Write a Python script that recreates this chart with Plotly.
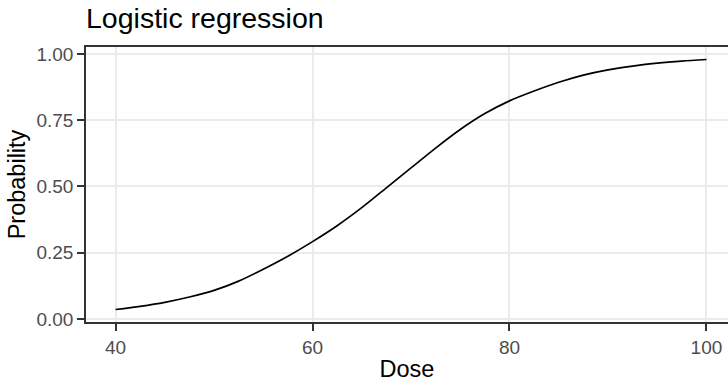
import plotly.graph_objects as go

# Fitted probability of response by dose
dose = [40, 42.5, 45, 47.5, 50, 52.5, 55, 57.5, 60, 62.5, 65, 67.5, 70,
        72.5, 75, 77.5, 80, 82.5, 85, 87.5, 90, 92.5, 95, 97.5, 100]
probability = [0.036, 0.048, 0.063, 0.083, 0.108, 0.143, 0.188, 0.237, 0.292,
               0.352, 0.420, 0.495, 0.570, 0.645, 0.715, 0.775, 0.823, 0.860,
               0.893, 0.920, 0.940, 0.954, 0.965, 0.973, 0.979]

x_ticks = [40, 60, 80, 100]
y_ticks = [0.00, 0.25, 0.50, 0.75, 1.00]
y_tick_labels = ["0.00", "0.25", "0.50", "0.75", "1.00"]

W, H = 728, 382
ML, MR, MT, MB = 86, 0, 47, 60

# ggplot-style 5% padding around the data range
xmin, xmax = min(dose), max(dose)
xpad = 0.05 * (xmax - xmin)
ymin, ymax = min(probability), max(probability)
ypad = 0.05 * (ymax - ymin)

# The panel runs slightly past the right edge of the page
full_panel_px = 650
visible_px = W - ML - MR
x_lo = xmin - xpad
x_hi = x_lo + (xmax - xmin + 2 * xpad) * visible_px / full_panel_px

FONT = "Liberation Sans, Arial, sans-serif"
BORDER = "#333333"
GRID = "#EBEBEB"

fig = go.Figure()
fig.add_trace(go.Scatter(
    x=dose, y=probability, mode="lines",
    line=dict(color="black", width=1.7, shape="spline", smoothing=0.8),
    hoverinfo="skip", showlegend=False,
))

fig.update_layout(
    width=W, height=H,
    margin=dict(l=ML, r=MR, t=MT, b=MB, pad=0),
    paper_bgcolor="white", plot_bgcolor="white",
    font=dict(family=FONT, color="black"),
    title=dict(
        text="Logistic regression", font=dict(size=28.5, color="black", family=FONT),
        x=ML / W, xanchor="left", xref="container",
        y=1 - 8 / H, yanchor="top", yref="container",
    ),
    showlegend=False,
)

fig.update_xaxes(
    range=[x_lo, x_hi], tickvals=x_ticks, ticktext=[str(v) for v in x_ticks],
    showgrid=True, gridcolor=GRID, gridwidth=1.5, zeroline=False,
    showline=True, linecolor=BORDER, linewidth=1.5, mirror=True,
    ticks="outside", ticklen=7, tickwidth=1.5, tickcolor=BORDER,
    tickfont=dict(size=19, color="#4D4D4D", family=FONT),
    title=dict(text="Dose", font=dict(size=23.5, color="black", family=FONT), standoff=7),
)
fig.update_yaxes(
    range=[ymin - ypad, ymax + ypad], tickvals=y_ticks, ticktext=y_tick_labels,
    showgrid=True, gridcolor=GRID, gridwidth=1.5, zeroline=False,
    showline=True, linecolor=BORDER, linewidth=1.5, mirror=False,
    ticks="outside", ticklen=7, tickwidth=1.5, tickcolor=BORDER,
    tickfont=dict(size=19, color="#4D4D4D", family=FONT),
    title=dict(text="Probability", font=dict(size=23.5, color="black", family=FONT), standoff=4),
)

fig.write_html("out.html")
